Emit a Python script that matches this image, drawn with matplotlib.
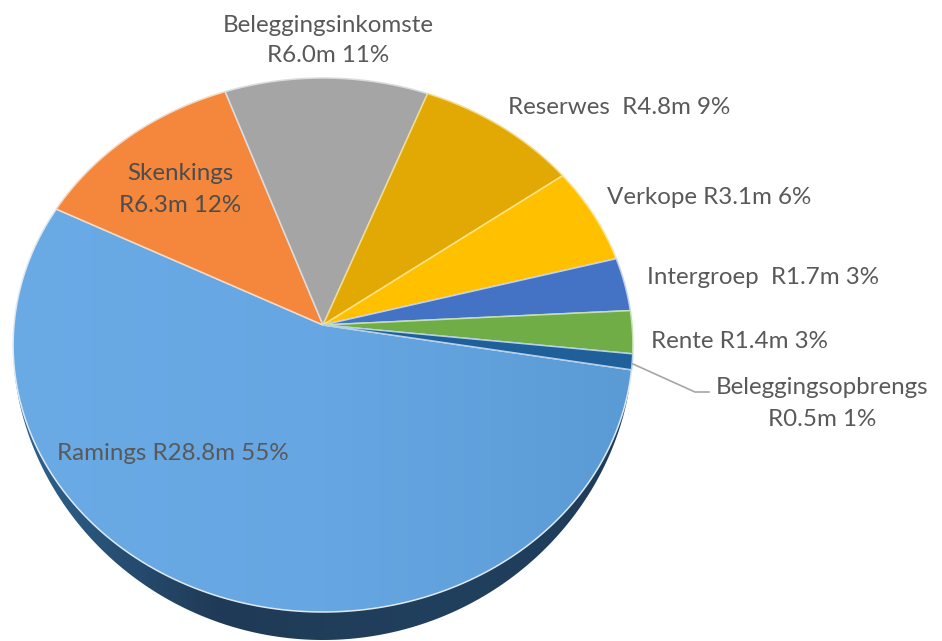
import matplotlib
matplotlib.use('Agg')
import matplotlib.pyplot as plt
from matplotlib.colors import LinearSegmentedColormap
from matplotlib.patches import Polygon
import numpy as np

plt.rcParams['font.family'] = ['Lato', 'DejaVu Sans']

names = ['Ramings', 'Skenkings', 'Beleggingsinkomste', 'Reserwes', 'Verkope',
         'Intergroep', 'Rente', 'Beleggingsopbrengs']
values = [28.84, 6.34, 6.0, 4.8, 3.1, 1.7, 1.36, 0.5]
percents = [55, 12, 11, 9, 6, 3, 3, 1]
colors = ['#5f9fdc', '#f4873c', '#a5a5a5', '#e2a904', '#ffc000', '#4472c4', '#70ad47', '#1f5f9a']
edges = ['#dfe9f2', '#f3d9c6', '#d9dcdf', '#f2dc8c', '#ffe38a', '#c3d2ec', '#c5e0b0', '#b5d0e8']
start_angle = -9.6

# tilted pie, apex sits above the middle of the outline
cx, cy = 323, 325
R, A, k = 309, 265.5, 0.0749
depth = 28
text_col = '#595959'
fs = 17.4


def project(theta):
    u, v = np.cos(theta), np.sin(theta)
    w = 1 + k * v
    return cx + R * u / w, cy - A * v / w


fig = plt.figure(figsize=(9.42, 6.41), dpi=100)
ax = fig.add_axes([0, 0, 1, 1])
ax.set_xlim(0, 942)
ax.set_ylim(641, 0)
ax.axis('off')

# rim under the front of the pie
t = np.linspace(np.radians(-172), np.radians(-14), 300)
x, y = project(t)
off = depth * np.clip(-np.sin(t), 0, 1) ** 1.5
rim = Polygon(np.r_[np.c_[x, y - 4], np.c_[x, y + off][::-1]], closed=True, fc='none', ec='none')
ax.add_patch(rim)
rim_cmap = LinearSegmentedColormap.from_list('rim', ['#2f6491', '#1f3a56', '#21405e', '#1f3d5a'])
im = ax.imshow(np.linspace(0, 1, 256).reshape(1, -1), cmap=rim_cmap, extent=(13, 633, 641, 340),
               aspect='auto', zorder=1)
im.set_clip_path(rim)

# slices, clockwise from the start angle
total = sum(values)
a0 = np.radians(start_angle)
for i, val in enumerate(values):
    a1 = a0 - 2 * np.pi * val / total
    t = np.linspace(a0, a1, max(int(val * 20), 12))
    x, y = project(t)
    pts = np.r_[[[cx, cy]], np.c_[x, y]]
    fc = 'none' if i == 0 else colors[i]
    p = Polygon(pts, closed=True, fc=fc, ec=edges[i], lw=1.1, zorder=3 + i * 0.01, joinstyle='round')
    ax.add_patch(p)
    if i == 0:
        top_cmap = LinearSegmentedColormap.from_list('top', ['#6aabe6', '#66a6e2', '#5b9bd5'])
        im2 = ax.imshow(np.linspace(0, 1, 256).reshape(1, -1), cmap=top_cmap,
                        extent=(13, 633, 641, 0), aspect='auto', zorder=2)
        im2.set_clip_path(p)
    a0 = a1

labels = [
    (173, 453, f'{names[0]} R{values[0]:.1f}m {percents[0]}%', text_col),
    (180, 174, names[1], '#4d4d4d'),
    (180, 205, f'R{values[1]:.1f}m {percents[1]}%', '#4d4d4d'),
    (328, 25, names[2], text_col),
    (328, 56, f'R{values[2]:.1f}m {percents[2]}%', text_col),
    (619, 108, f'{names[3]}  R{values[3]:.1f}m {percents[3]}%', text_col),
    (709, 197, f'{names[4]} R{values[4]:.1f}m {percents[4]}%', text_col),
    (763, 278, f'{names[5]}  R{values[5]:.1f}m {percents[5]}%', text_col),
    (739, 341, f'{names[6]} R{values[6]:.1f}m {percents[6]}%', text_col),
    (822, 388, names[7], text_col),
    (822, 419, f'R{values[7]:.1f}m {percents[7]}%', text_col),
]
for lx, ly, s, c in labels:
    ax.text(lx, ly, s, color=c, fontsize=fs, ha='center', va='center', zorder=5)

# leader line for the smallest slice
ax.plot([633, 695, 709], [364, 392, 392], color='#a6a6a6', lw=1.2, zorder=4)

fig.savefig('out.png', dpi=100)
